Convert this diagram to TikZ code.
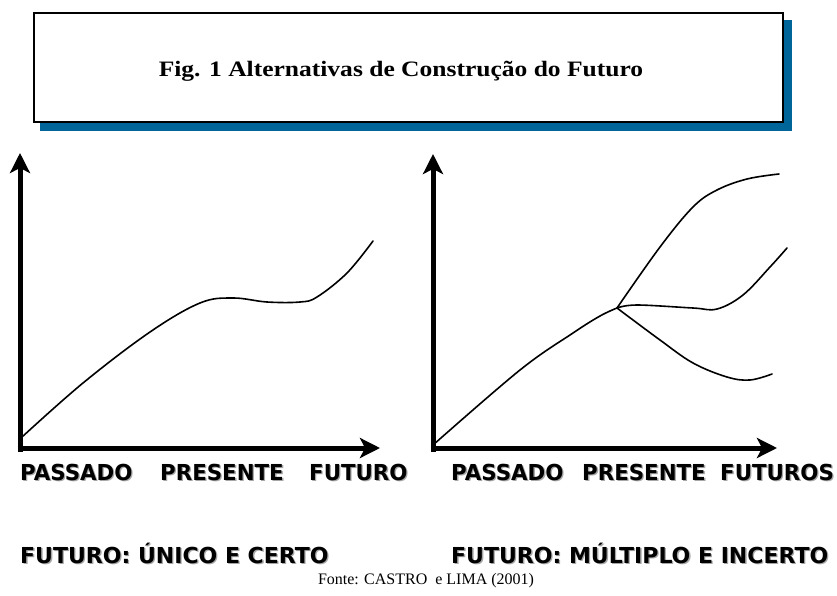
\documentclass[tikz,border=0pt]{standalone}
\usepackage{fontspec}
\setmainfont{Liberation Serif}
\newfontfamily\labfont{DejaVu Sans}
\usetikzlibrary{arrows.meta}
\definecolor{shadowblue}{RGB}{0,102,153}
\begin{document}
\begin{tikzpicture}[x=1pt,y=-1pt,
  axis/.style={line width=5pt,-{Stealth[length=20pt,width=20pt,inset=5pt]}},
  curve/.style={line width=1.6pt,line cap=round,line join=round},
  lab/.style={font=\labfont\bfseries\fontsize{22}{25}\selectfont,inner sep=0pt,anchor=base west},
  labsh/.style={lab,text=black!35},
  title/.style={font=\bfseries\fontsize{22}{26}\selectfont,inner sep=0pt,anchor=base,xscale=1.16}]
\useasboundingbox (0,0) rectangle (837,596);
% title box with shadow
\fill[shadowblue] (40,20) rectangle (792,131);
\draw[line width=2pt,fill=white] (34,13) rectangle (783,122);
\node[title] (t) at (401,77) {Fig. 1 Alternativas de Construção do Futuro};
% left axes
\draw[axis] (20,452) -- (20,153);
\draw[axis] (17.5,448) -- (380,448);
\draw[curve] plot[smooth,tension=0.6] coordinates {(22,437) (83,383) (150,332) (200,303) (233,298) (267,302) (300,302) (317,297) (347,273) (373,241)};
% right axes
\draw[axis] (433,452) -- (433,154);
\draw[axis] (430.5,448) -- (777,448);
\coordinate (b) at (617,308);
\draw[curve] plot[smooth,tension=0.6] coordinates {(433,445) (520,370) (573,333) (600,316) (b)};
\draw[curve] plot[smooth,tension=0.6] coordinates {(b) (660,247) (693,207) (717,190) (747,179) (779,174)};
\draw[curve] plot[smooth,tension=0.6] coordinates {(b) (637,305) (693,308) (717,309) (743,295) (770,267) (787,248)};
\draw[curve] plot[smooth,tension=0.6] coordinates {(b) (660,340) (693,363) (727,377) (750,380) (772,374)};
% labels with light shadow
\foreach \p/\t in {20/PASSADO,160/PRESENTE,309/FUTURO,451/PASSADO,582/PRESENTE,720/FUTUROS}{
  \node[labsh,xscale=0.97] at (\p+1.3,481.3) {\t};
  \node[lab,xscale=0.97] at (\p,480) {\t};
}
\node[labsh] at (21.3,564.3) {FUTURO: ÚNICO E CERTO};
\node[lab] (l1) at (20,563) {FUTURO: ÚNICO E CERTO};
\node[labsh] at (452.3,564.3) {FUTURO: MÚLTIPLO E INCERTO};
\node[lab] (l2) at (451,563) {FUTURO: MÚLTIPLO E INCERTO};
\node[font=\fontsize{16}{18}\selectfont,inner sep=0pt,anchor=base] (src) at (426,584) {Fonte: CASTRO\ \ e LIMA (2001)};
\end{tikzpicture}
\end{document}
